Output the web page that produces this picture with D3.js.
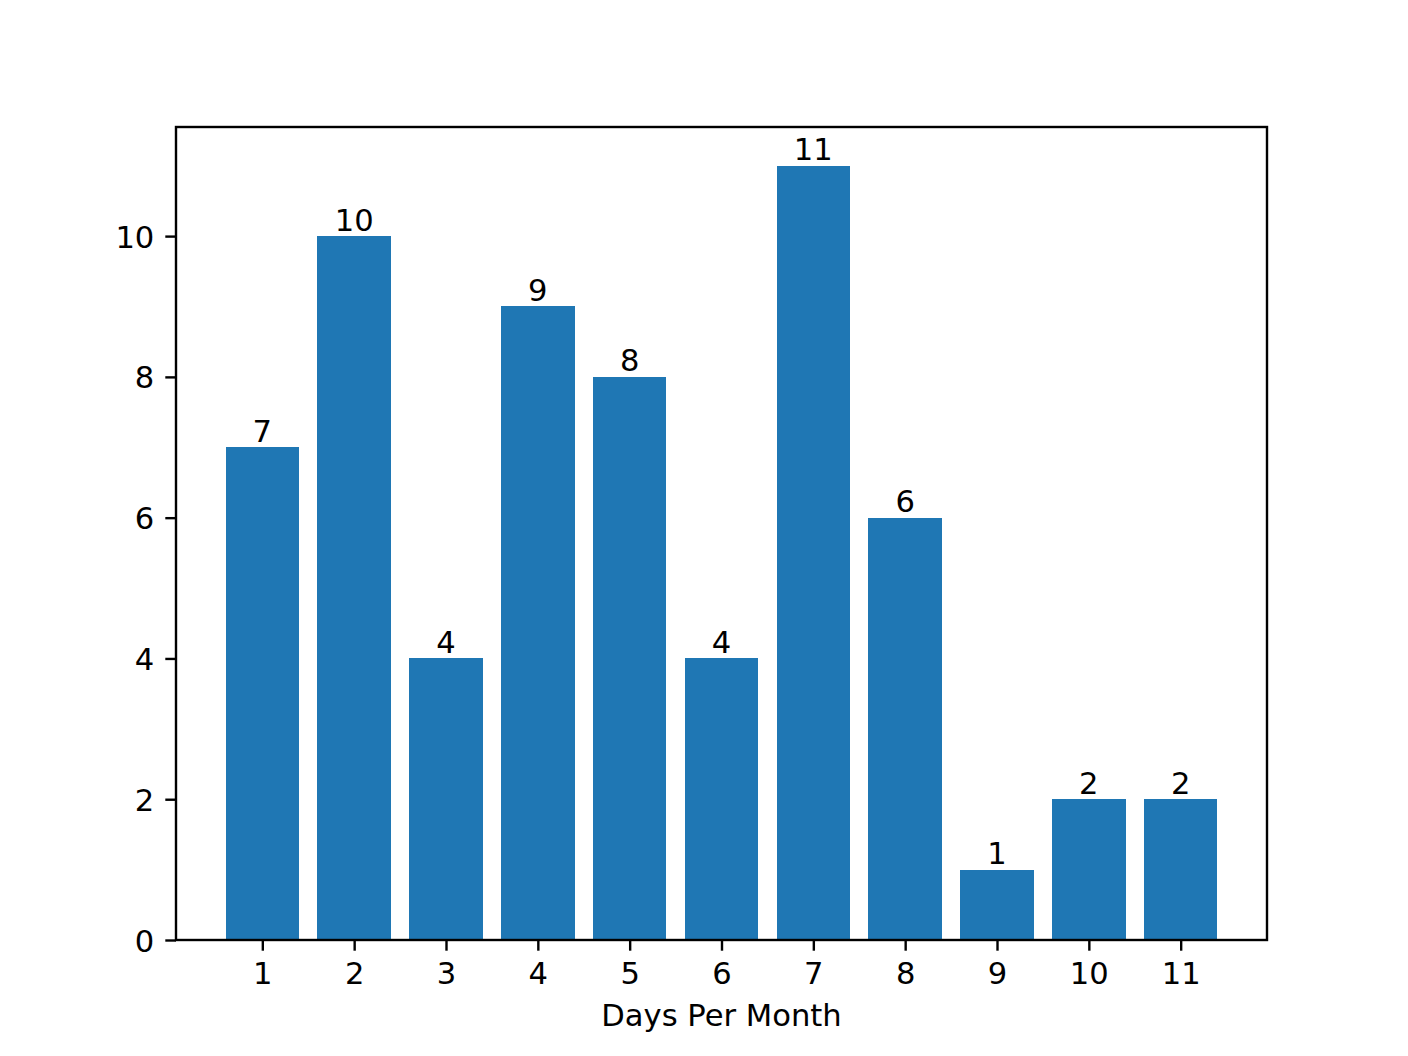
<!DOCTYPE html>
<html>
<head>
<meta charset="utf-8">
<script src="https://cdn.jsdelivr.net/npm/d3@7"></script>
<style>
  html, body { margin: 0; padding: 0; background: #fff; }
  svg { display: block; font-family: "DejaVu Sans", sans-serif; }
</style>
</head>
<body>
<svg id="chart" width="1408" height="1056"></svg>
<script>
const categories = [1, 2, 3, 4, 5, 6, 7, 8, 9, 10, 11];
const values = [7, 10, 4, 9, 8, 4, 11, 6, 1, 2, 2];
const yTicks = [0, 2, 4, 6, 8, 10];
const xLabel = "Days Per Month";

(function () {
const mLeft = 176, mRight = 1267, mTop = 127, mBottom = 940;
const fontPx = 30.6;
const barW = 0.8;
const svg = d3.select("#chart");

const xMin = d3.min(categories) - barW / 2, xMax = d3.max(categories) + barW / 2;
const xPad = (xMax - xMin) * 0.05;
const x = d3.scaleLinear().domain([xMin - xPad, xMax + xPad]).range([mLeft, mRight]);
const y = d3.scaleLinear().domain([0, d3.max(values) * 1.05]).range([mBottom, mTop]);

// bars
svg.append("g").selectAll("rect").data(categories).join("rect")
  .attr("x", (d) => x(d - barW / 2))
  .attr("width", (d) => x(d + barW / 2) - x(d - barW / 2))
  .attr("y", (d, i) => y(values[i]))
  .attr("height", (d, i) => y(0) - y(values[i]))
  .attr("fill", "#1f77b4")
  .attr("shape-rendering", "crispEdges");

// bar labels
svg.append("g").selectAll("text").data(categories).join("text")
  .attr("x", (d) => x(d))
  .attr("y", (d, i) => y(values[i]) - 5.5)
  .attr("text-anchor", "middle")
  .attr("font-size", fontPx)
  .attr("fill", "#000")
  .text((d, i) => values[i]);

// axes
const xAxis = d3.axisBottom(x).tickValues(categories).tickSize(10.7).tickPadding(10).tickFormat(d3.format("d"));
const gx = svg.append("g").attr("transform", `translate(0,${mBottom})`).call(xAxis);
const yAxis = d3.axisLeft(y).tickValues(yTicks).tickSize(10.7).tickPadding(11).tickFormat(d3.format("d"));
const gy = svg.append("g").attr("transform", `translate(${mLeft},0)`).call(yAxis);

[gx, gy].forEach(g => {
  g.select(".domain").remove();
  g.selectAll(".tick line").attr("stroke", "#000").attr("stroke-width", 2.4);
  g.selectAll(".tick text").attr("font-size", fontPx).attr("fill", "#000")
    .attr("font-family", "DejaVu Sans, sans-serif");
});
gx.selectAll(".tick text").attr("dy", null).attr("y", 43.5);
gy.selectAll(".tick text").attr("dy", "0.36em");

// frame
svg.append("rect")
  .attr("x", mLeft).attr("y", mTop)
  .attr("width", mRight - mLeft).attr("height", mBottom - mTop)
  .attr("fill", "none").attr("stroke", "#000").attr("stroke-width", 2.4);

// x label
svg.append("text")
  .attr("x", (mLeft + mRight) / 2)
  .attr("y", 1025.5)
  .attr("text-anchor", "middle")
  .attr("font-size", fontPx)
  .attr("fill", "#000")
  .text(xLabel);
})();
</script>
</body>
</html>
